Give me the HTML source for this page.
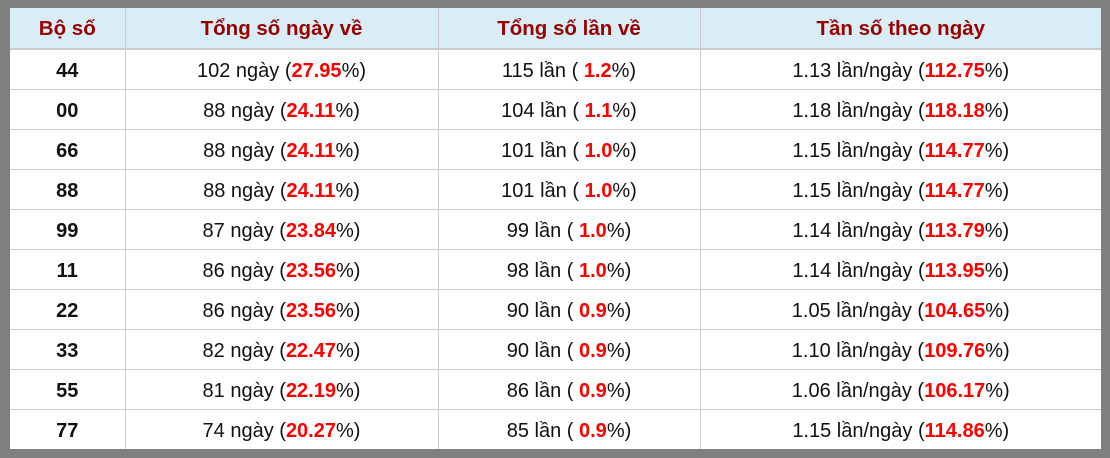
<!DOCTYPE html><html><head><style>
body{margin:0;background:#fff}
.w{position:absolute;left:0;top:0;width:1110px;height:458px;background:#808080}
table{position:absolute;left:10px;top:8px;width:1091px;border-collapse:collapse;background:#fff;font-family:"Liberation Sans",sans-serif;font-size:20px;table-layout:fixed}
th{height:38px;background:#d9edf6;color:#990000;font-weight:bold;font-size:20.5px;border-left:1px solid #ccc;border-bottom:2px solid #ccc;padding:2px 0 0 0}
td{height:36px;border-left:1px solid #ccc;border-top:1px solid #ccc;text-align:center;color:#111;padding:3px 0 0 0}
th:first-child,td:first-child{border-left:none}
tr:nth-child(2) td{border-top:none}
td:first-child{font-weight:bold}
b{color:#f00}
</style></head><body><div class="w"><table>
<colgroup><col style="width:115px"><col style="width:313px"><col style="width:262px"><col></colgroup>
<tr><th>Bộ số</th><th>Tổng số ngày về</th><th>Tổng số lần về</th><th>Tần số theo ngày</th></tr>
<tr><td>44</td><td>102 ngày (<b>27.95</b>%)</td><td>115 lần ( <b>1.2</b>%)</td><td>1.13 lần/ngày (<b>112.75</b>%)</td></tr>
<tr><td>00</td><td>88 ngày (<b>24.11</b>%)</td><td>104 lần ( <b>1.1</b>%)</td><td>1.18 lần/ngày (<b>118.18</b>%)</td></tr>
<tr><td>66</td><td>88 ngày (<b>24.11</b>%)</td><td>101 lần ( <b>1.0</b>%)</td><td>1.15 lần/ngày (<b>114.77</b>%)</td></tr>
<tr><td>88</td><td>88 ngày (<b>24.11</b>%)</td><td>101 lần ( <b>1.0</b>%)</td><td>1.15 lần/ngày (<b>114.77</b>%)</td></tr>
<tr><td>99</td><td>87 ngày (<b>23.84</b>%)</td><td>99 lần ( <b>1.0</b>%)</td><td>1.14 lần/ngày (<b>113.79</b>%)</td></tr>
<tr><td>11</td><td>86 ngày (<b>23.56</b>%)</td><td>98 lần ( <b>1.0</b>%)</td><td>1.14 lần/ngày (<b>113.95</b>%)</td></tr>
<tr><td>22</td><td>86 ngày (<b>23.56</b>%)</td><td>90 lần ( <b>0.9</b>%)</td><td>1.05 lần/ngày (<b>104.65</b>%)</td></tr>
<tr><td>33</td><td>82 ngày (<b>22.47</b>%)</td><td>90 lần ( <b>0.9</b>%)</td><td>1.10 lần/ngày (<b>109.76</b>%)</td></tr>
<tr><td>55</td><td>81 ngày (<b>22.19</b>%)</td><td>86 lần ( <b>0.9</b>%)</td><td>1.06 lần/ngày (<b>106.17</b>%)</td></tr>
<tr><td>77</td><td>74 ngày (<b>20.27</b>%)</td><td>85 lần ( <b>0.9</b>%)</td><td>1.15 lần/ngày (<b>114.86</b>%)</td></tr>
</table></div></body></html>
